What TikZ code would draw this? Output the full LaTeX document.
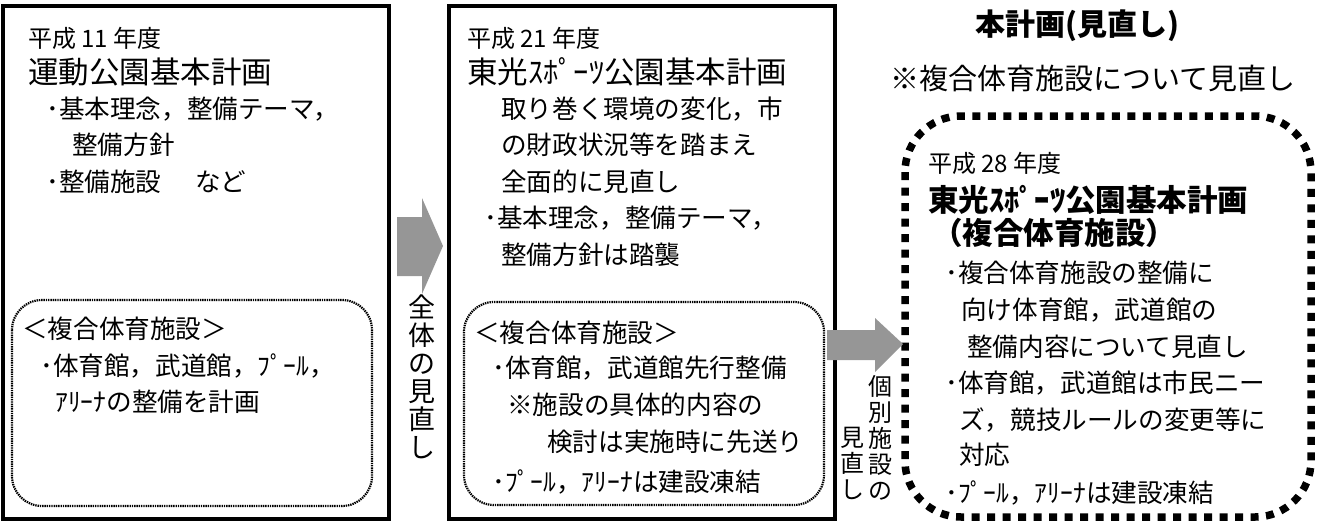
\documentclass[tikz,border=0pt]{standalone}
\usepackage{fontspec}
\newfontfamily\jpfont{Noto Sans CJK JP}
\definecolor{arrowgray}{RGB}{150,150,150}
\tikzset{
  yeartext/.style={anchor=west,inner sep=0pt,font=\jpfont\fontsize{24}{24}\selectfont},
  titletext/.style={anchor=west,inner sep=0pt,font=\jpfont\fontsize{30.5}{30.5}\selectfont},
  boldtitle/.style={anchor=west,inner sep=0pt,font=\jpfont\bfseries\fontsize{30.5}{30.5}\selectfont},
  bodytext/.style={anchor=west,inner sep=0pt,font=\jpfont\fontsize{25.6}{25.6}\selectfont},
  vtext/.style={anchor=north,inner sep=0pt,align=center},
  planbox/.style={line width=4pt},
  subbox/.style={line width=2.2pt,dash pattern=on 1.4pt off 0.9pt,rounded corners=30pt},
  blockarrow/.style={fill=arrowgray,draw=none}
}
\begin{document}
\begin{tikzpicture}[x=1pt,y=-1pt]
\useasboundingbox (0,0) rectangle (1317,525);
% plan boxes
\draw[planbox] (3,6) rectangle (389,519);
\draw[planbox] (449,6) rectangle (835,519);
\draw[subbox] (12,300) rectangle (372,506);
\draw[subbox] (464,302) rectangle (824,505);
\draw[line width=7.5pt,dash pattern=on 8pt off 7.5pt,rounded corners=56pt] (905,116) rectangle (1311,517);
% arrows
\fill[blockarrow] (397,217) -- (422,217) -- (422,198) -- (443,246) -- (422,294) -- (422,276) -- (397,276) -- cycle;
\fill[blockarrow] (827,330) -- (875,330) -- (875,318) -- (903,344) -- (875,372) -- (875,360) -- (827,360) -- cycle;
\node[vtext,font=\jpfont\fontsize{27}{28}\selectfont] (v1) at (422,295) {全\\体\\の\\見\\直\\し};
\node[vtext,font=\jpfont\fontsize{24}{26}\selectfont] (v2) at (880,375) {個\\別\\施\\設\\の};
\node[vtext,font=\jpfont\fontsize{24}{26}\selectfont] (v3) at (852,427) {見\\直\\し};
% H11
\node[yeartext] (a1) at (28,38) {平成 11 年度};
\node[titletext] (a2) at (28,72) {運動公園基本計画};
\node[bodytext] (a3) at (46,109) {･基本理念，整備テーマ，};
\node[bodytext] (a4) at (72,145) {整備方針};
\node[bodytext] (a5) at (46,182) {･整備施設\hspace{34pt}など};
\node[bodytext] (a6) at (22,329) {＜複合体育施設＞};
\node[bodytext] (a7) at (40,366) {･体育館，武道館，ﾌﾟｰﾙ，};
\node[bodytext] (a8) at (55,402) {ｱﾘｰﾅの整備を計画};
% H21
\node[yeartext] (b1) at (467,38) {平成 21 年度};
\node[titletext] (b2) at (467,72) {東光ｽﾎﾟｰﾂ公園基本計画};
\node[bodytext] (b3) at (501,109) {取り巻く環境の変化，市};
\node[bodytext] (b4) at (501,145) {の財政状況等を踏まえ};
\node[bodytext] (b5) at (501,182) {全面的に見直し};
\node[bodytext] (b6) at (484,218) {･基本理念，整備テーマ，};
\node[bodytext] (b7) at (501,255) {整備方針は踏襲};
\node[bodytext] (b8) at (474,333) {＜複合体育施設＞};
\node[bodytext] (b9) at (492,368) {･体育館，武道館先行整備};
\node[bodytext] (b10) at (507,405) {※施設の具体的内容の};
\node[bodytext] (b11) at (547,442) {検討は実施時に先送り};
\node[bodytext] (b12) at (492,482) {･ﾌﾟｰﾙ，ｱﾘｰﾅは建設凍結};
% H28
\node[anchor=center,inner sep=0pt,font=\jpfont\bfseries\fontsize{30}{30}\selectfont] (c0) at (1077,26) {本計画(見直し)};
\node[anchor=west,inner sep=0pt,font=\jpfont\fontsize{29}{29}\selectfont] (c00) at (890,78) {※複合体育施設について見直し};
\node[yeartext] (c1) at (928,163) {平成 28 年度};
\node[boldtitle] (c2) at (928,200) {東光ｽﾎﾟｰﾂ公園基本計画};
\node[boldtitle] (c3) at (932,233) {（複合体育施設）};
\node[bodytext] (c4) at (945,273) {･複合体育施設の整備に};
\node[bodytext] (c5) at (961,310) {向け体育館，武道館の};
\node[bodytext] (c6) at (967,347) {整備内容について見直し};
\node[bodytext] (c7) at (945,383) {･体育館，武道館は市民ニー};
\node[bodytext] (c8) at (959,420) {ズ，競技ルールの変更等に};
\node[bodytext] (c9) at (959,455) {対応};
\node[bodytext] (c10) at (945,493) {･ﾌﾟｰﾙ，ｱﾘｰﾅは建設凍結};
\end{tikzpicture}
\end{document}
